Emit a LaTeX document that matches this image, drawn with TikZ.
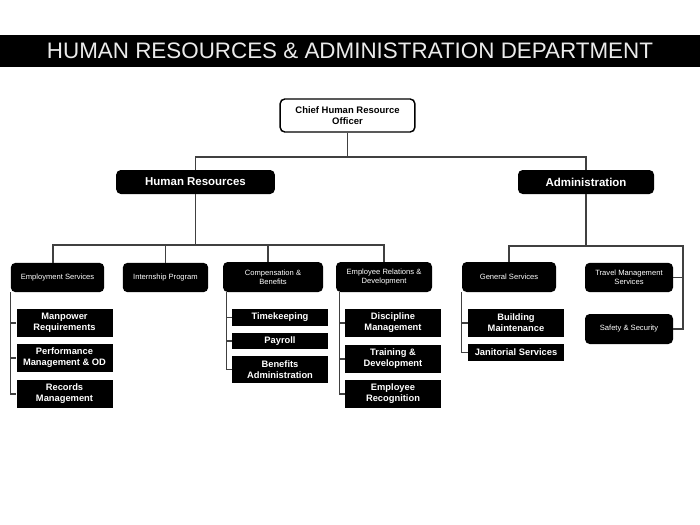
\documentclass[tikz,border=0pt]{standalone}
\usepackage{fontspec}
\setmainfont{Liberation Sans}
\begin{document}
\begin{tikzpicture}[x=0.75pt,y=-0.75pt,
  conn/.style={draw=black!75,line width=0.9pt},
  topbox/.style={draw=black,fill=white,line width=1.1pt,rounded corners=3.5pt,align=center,
    font=\fontsize{7.1}{8.6}\selectfont\bfseries,inner sep=0pt},
  headbox/.style={fill=black,text=white,rounded corners=3.5pt,align=center,
    font=\fontsize{8.6}{10}\selectfont\bfseries,inner sep=0pt},
  midbox/.style={fill=black,text=white,rounded corners=3.5pt,align=center,
    font=\fontsize{5.7}{6.8}\selectfont,inner sep=0pt},
  subbox/.style={fill=black,text=white,align=center,
    font=\fontsize{7}{8.2}\selectfont\bfseries,inner sep=0pt}]
\useasboundingbox (0,0) rectangle (700,525);
\fill[white] (0,0) rectangle (700,525);
% title bar
\node[fill=black,text=white!92!black,minimum width=525pt,minimum height=24pt,inner sep=0pt,
  font=\fontsize{16.8}{18}\selectfont] (title) at (350,50.5) {HUMAN RESOURCES \& ADMINISTRATION DEPARTMENT};
% top
\node[topbox,minimum width=101pt,minimum height=24.75pt] (chief) at (347.5,115.5) {Chief Human Resource\\Officer};
\node[headbox,minimum width=119pt,minimum height=18pt] (hr) at (195.5,182) {Human Resources};
\node[headbox,minimum width=102pt,minimum height=18pt] (admin) at (586,182) {Administration};
% level 2
\node[midbox,minimum width=70pt,minimum height=22pt] (emp) at (57.5,277.5) {Employment Services};
\node[midbox,minimum width=64pt,minimum height=22pt] (intern) at (165.5,277.5) {Internship Program};
\node[midbox,minimum width=75pt,minimum height=22.5pt] (comp) at (273,277) {Compensation \&\\Benefits};
\node[midbox,minimum width=72pt,minimum height=22.5pt] (rel) at (384,277) {Employee Relations \&\\Development};
\node[midbox,minimum width=70.5pt,minimum height=22.5pt] (gen) at (509,277) {General Services};
\node[midbox,minimum width=66pt,minimum height=22pt] (trav) at (629,277.5) {Travel Management\\Services};
\node[midbox,minimum width=66pt,minimum height=22.5pt] (safe) at (629,329) {Safety \& Security};
% level 3
\node[subbox,minimum width=72pt,minimum height=21pt] (man) at (64.5,323) {Manpower\\Requirements};
\node[subbox,minimum width=72pt,minimum height=21pt] (perf) at (64.5,358) {Performance\\Management \& OD};
\node[subbox,minimum width=72pt,minimum height=21pt] (rec) at (64.5,394) {Records\\Management};
\node[subbox,minimum width=72pt,minimum height=12.75pt] (time) at (280,317.5) {Timekeeping};
\node[subbox,minimum width=72pt,minimum height=12pt] (pay) at (280,341) {Payroll};
\node[subbox,minimum width=72pt,minimum height=20.25pt] (ben) at (280,369.5) {Benefits\\Administration};
\node[subbox,minimum width=72pt,minimum height=21pt] (disc) at (393,323) {Discipline\\Management};
\node[subbox,minimum width=72pt,minimum height=21pt] (train) at (393,359) {Training \&\\Development};
\node[subbox,minimum width=72pt,minimum height=21pt] (recog) at (393,394) {Employee\\Recognition};
\node[subbox,minimum width=72pt,minimum height=21pt] (build) at (516,323) {Building\\Maintenance};
\node[subbox,minimum width=72pt,minimum height=12.75pt] (jan) at (516,352.5) {Janitorial Services};
% bus coordinates
\coordinate (bus1) at (350,157);
\coordinate (bus2) at (194,245);
\coordinate (bus3) at (587,246);
\coordinate (bus3r) at (683,246);
% connectors level 1
\draw[conn] (chief.south) -- (chief.south |- bus1);
\draw[conn] (hr.north) -- (hr.north |- bus1) -- (admin.north |- bus1) -- (admin.north);
% HR branch
\draw[conn] (hr.south) -- (hr.south |- bus2);
\draw[conn] ([xshift=-3.4pt]emp.north) -- ([xshift=-3.4pt]emp.north |- bus2) -- (rel.north |- bus2) -- (rel.north);
\draw[conn] (intern.north) -- (intern.north |- bus2);
\draw[conn] ([xshift=-3.7pt]comp.north) -- ([xshift=-3.7pt]comp.north |- bus2);
% Admin branch
\draw[conn] (admin.south) -- (admin.south |- bus3);
\draw[conn] (gen.north) -- (gen.north |- bus3) -- (bus3r) -- (bus3r |- safe.east) -- (safe.east);
\draw[conn] (bus3r |- trav.east) -- (trav.east);
% Employment subs
\draw[conn] (emp.south west) -- (emp.south west |- rec.west) -- (rec.west);
\draw[conn] (emp.south west |- man.west) -- (man.west);
\draw[conn] (emp.south west |- perf.west) -- (perf.west);
% Compensation subs
\draw[conn] ([xshift=3pt]comp.south west) -- ([xshift=3pt]comp.south west |- ben.west) -- (ben.west);
\draw[conn] ([xshift=3pt]comp.south west |- time.west) -- (time.west);
\draw[conn] ([xshift=3pt]comp.south west |- pay.west) -- (pay.west);
% Relations subs
\draw[conn] ([xshift=3pt]rel.south west) -- ([xshift=3pt]rel.south west |- recog.west) -- (recog.west);
\draw[conn] ([xshift=3pt]rel.south west |- disc.west) -- (disc.west);
\draw[conn] ([xshift=3pt]rel.south west |- train.west) -- (train.west);
% General subs
\draw[conn] (gen.south west) -- (gen.south west |- jan.west) -- (jan.west);
\draw[conn] (gen.south west |- build.west) -- (build.west);
\end{tikzpicture}
\end{document}
